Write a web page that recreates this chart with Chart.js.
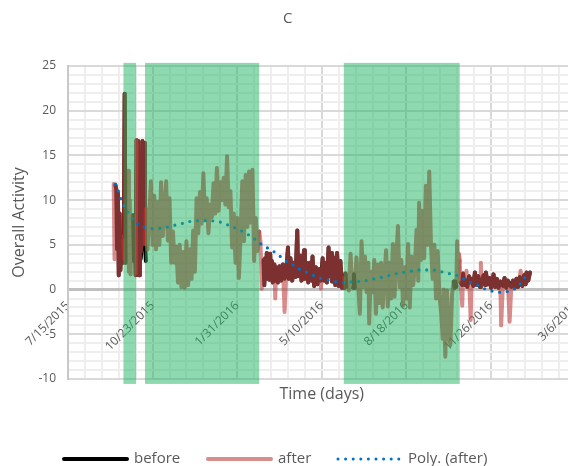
<!DOCTYPE html>
<html>
<head>
<meta charset="utf-8">
<script src="https://cdn.jsdelivr.net/npm/chart.js@4/dist/chart.umd.min.js"></script>
<style>
  html, body { margin: 0; padding: 0; overflow: hidden; background: #ffffff; }
  canvas { display: block; }
</style>
</head>
<body>
<canvas id="chart" width="578" height="466"></canvas>
<script>
// Day 0 of the time axis is 7/15/2015; every x value below is a day offset from it.
const START_UTC = Date.UTC(2015, 6, 15);

// Axis ticks: a gridline every 20 days, a date label every 100 days.
const xTickStep = 20;
const xLabelEvery = 100;
const xRange = [0, 600];
const yRange = [-10, 25];

// Shaded intervention periods [startDay, endDay].
const shadedPeriods = [[65.5, 80.5], [91, 226], [326, 463]];

// "after" series: [day, overall activity]
const afterSeries = [
  [54, 11.8], [55, 3.4], [56, 11.7], [57, 11.2], [58, 4.5], [59, 10.8], [60, 1.6], [61, 8.5],
  [62, 2.2], [63, 6.0], [64, 3.0], [65, 5.5], [66, 3.5], [67, 21.9], [68, 3.0], [69, 11.5],
  [70, 5.0], [71, 13.3], [72, 2.0], [73, 10.0], [74, 1.7], [75, 8.0], [76, 4.5], [77, 8.3],
  [78, 3.2], [79, 7.5], [80, 1.6], [81, 16.7], [82, 1.8], [83, 16.6], [84, 1.6], [85, 5.4],
  [86, 4.2], [87, 5.0], [88, 16.6], [89, 5.5], [90, 16.4], [91, 5.1], [92, 9.0],
  [94, 4.5], [96, 8.5], [98, 12.1], [100, 5.0], [102, 10.5], [104, 4.5], [106, 9.8], [108, 5.0],
  [110, 12.0], [112, 6.0], [114, 9.0], [116, 12.1], [118, 5.5], [120, 10.2], [122, 3.0], [124, 6.5],
  [126, 3.0], [128, 4.8], [130, 0.8], [132, 5.0], [134, 0.3], [136, 4.2], [138, 0.2], [140, 5.4],
  [142, 0.5], [144, 4.5], [146, 1.2], [148, 6.6], [150, 2.0], [152, 10.2], [154, 6.3], [156, 10.9],
  [158, 7.4], [160, 13.0], [162, 8.0], [164, 10.2], [166, 6.3], [168, 9.5], [170, 8.1], [172, 11.9],
  [174, 8.5], [176, 13.6], [178, 8.8], [180, 12.0], [182, 10.0], [184, 12.5], [186, 9.5], [188, 14.9],
  [190, 9.2], [192, 11.0], [194, 4.7], [196, 8.5], [198, 3.0], [200, 8.0], [202, 1.3], [204, 6.0],
  [206, 12.1], [208, 5.4], [210, 12.8], [212, 7.0], [214, 13.2], [216, 7.5], [218, 13.4], [220, 3.2],
  [222, 8.0], [224, 4.3], [226, 6.5], [227.5, 5.4], [229, 0.1],
  [231, 3.3], [232, 0.5], [233, 3.5], [234, 1.2], [235, 4.1], [236, 1.5], [237, 3.0], [238, 1.1],
  [239, 4.0], [240, 1.5], [241, 3.2], [242, 0.8], [244, 2.8], [245, -1.0], [246, 2.5], [248, 0.8],
  [250, 2.6], [252, 1.0], [254, 2.8], [256, -2.5], [258, 2.0], [260, 4.7], [261, 1.2], [263, 3.5],
  [265, 1.0], [267, 3.0], [269, 1.4], [271, 6.6], [272, 1.5], [274, 3.8], [276, 1.0], [279, 4.4],
  [280, 1.2], [282, 3.0], [284, 0.8], [286, 3.0], [288, 1.0], [289, 3.7], [291, 0.4], [293, 2.5],
  [295, 0.6], [297, 2.3], [299, 0.1], [301, 3.5], [303, 1.0], [305, 3.0], [306, 0.8], [308, 4.7],
  [309, 1.5], [311, 4.1], [312, 0.9], [314, 3.6], [316, 0.5], [318, 4.1], [320, 0.4], [322, 3.2],
  [324, 0.2], [326, 1.3],
  [327, 0.2], [328, 1.8], [329, 0.3], [330, 1.2], [332, -0.1], [334, 4.0], [336, 0.3], [337, 0.2],
  [338, 1.7], [339, 0.2], [341, 3.6], [343, 0.5], [345, -2.7], [347, 5.4], [349, 0.3], [351, 3.7],
  [353, -0.3], [355, 3.0], [356, -3.8], [358, 2.0], [360, -0.3], [362, 3.3], [364, -2.7], [366, 2.8],
  [368, -1.5], [370, 3.0], [372, -2.0], [374, 1.5], [376, 4.4], [378, -1.9], [380, 3.0], [382, -1.0],
  [384, 5.1], [386, -0.8], [388, 3.5], [390, 7.1], [392, 0.3], [394, 3.3], [396, -1.8], [398, 2.5],
  [400, -1.0], [402, 5.1], [404, -2.0], [406, 3.7], [408, 0.5], [410, 2.5], [412, 6.7], [414, 1.0],
  [415, 9.7], [417, 3.3], [419, 8.8], [421, 3.5], [423, 11.6], [425, 5.0], [427, 13.2], [429, 5.1],
  [431, 1.2], [433, 5.0], [435, -1.0], [437, 4.3], [439, -0.6], [441, -2.5], [443, -5.5], [444, 0.0],
  [446, -7.5], [448, -0.1], [450, -4.7], [452, -6.2], [454, -0.5], [456, 0.9], [457, 0.2], [458, 0.9],
  [459, 0.3], [460, 5.4], [461, 1.0], [462, 4.0], [463, 3.2],
  [464, 0.8], [466, -1.8], [467, 1.8], [469, 0.5], [471, 2.1], [472, 0.3], [474, 1.5], [476, -3.4],
  [477, 1.2], [479, 0.4], [481, 1.9], [483, 0.5], [485, 1.5], [487, 0.3], [488, 3.0], [489, 0.8],
  [491, 1.6], [493, 0.5], [494, 1.9], [496, 0.6], [498, 1.3], [500, 0.2], [502, 1.0], [503, 1.7],
  [505, 0.3], [507, 1.2], [509, 0.2], [511, 0.9], [512, -4.0], [514, 0.4], [516, 1.3], [518, 0.2],
  [520, 1.0], [522, -3.6], [524, 0.3], [526, 1.0], [528, 0.2], [530, 1.2], [532, 0.3], [534, 1.4],
  [535, 2.1], [537, 0.4], [539, 1.6], [541, 0.6], [542, 1.9], [544, 1.0], [546, 1.9]
];

// "before" series: [day, overall activity]; null marks a gap in the record.
const beforeSeries = [
  [56, 11.7], [57, 11.2], [58, 4.5], [59, 10.8], [60, 1.6], [61, 8.5], [62, 2.2], [63, 6.0],
  [64, 3.0], [65, 5.5], [66, 3.5], [67, 21.9], [68, 3.0], [72, null],
  [77, 8.3], [78, 3.2], [79, 7.5], [80, 1.6], [81, 16.7], [82, 1.8], [83, 16.6], [84, 1.6],
  [85, 3.2], [86, 3.5], [87, 5.0], [88, 16.6], [89, 5.5], [90, 16.4], [91, 5.1], [92, 3.2],
  [150, null],
  [231, 3.3], [232, 0.5], [233, 3.5], [234, 1.2], [235, 4.1], [236, 1.5], [237, 3.0], [238, 1.1],
  [239, 4.0], [240, 1.5], [241, 3.2], [242, 0.8], [244, 2.8], [245, 1.0], [246, 2.5], [248, 0.8],
  [250, 2.6], [252, 1.0], [254, 2.8], [256, 1.2], [258, 2.0], [260, 4.7], [261, 1.2], [263, 3.5],
  [265, 1.0], [267, 3.0], [269, 1.4], [271, 6.6], [272, 1.5], [274, 3.8], [276, 1.0], [279, 4.4],
  [280, 1.2], [282, 3.0], [284, 0.8], [286, 3.0], [288, 1.0], [289, 3.7], [291, 0.4], [293, 2.5],
  [295, 0.6], [297, 2.3], [299, 1.0], [301, 3.5], [303, 1.0], [305, 3.0], [306, 0.8], [308, 4.7],
  [309, 1.5], [311, 4.1], [312, 0.9], [314, 3.6], [316, 0.5], [318, 4.1], [320, 0.4], [322, 3.2],
  [324, 0.2], [326, 1.3], [327, 0.2], [328, 1.8], [329, 0.3], [333, null],
  [337, 0.2], [338, 1.7], [339, 0.2], [400, null],
  [456, 0.9], [457, 0.2], [458, 0.9], [459, 0.3], [461, null],
  [464, 0.8], [466, 0.5], [467, 1.8], [469, 0.5], [471, 1.0], [472, 0.3], [474, 1.5], [476, 0.8],
  [477, 1.2], [479, 0.4], [481, 1.9], [483, 0.5], [485, 1.5], [487, 0.3], [488, 1.0], [489, 0.8],
  [491, 1.6], [493, 0.5], [494, 1.9], [496, 0.6], [498, 1.3], [500, 0.2], [502, 1.0], [503, 1.7],
  [505, 0.3], [507, 1.2], [509, 0.2], [511, 0.9], [512, 0.6], [514, 0.4], [516, 1.3], [518, 0.2],
  [520, 1.0], [522, 0.5], [524, 0.3], [526, 1.0], [528, 0.2], [530, 1.2], [532, 0.3], [534, 1.4],
  [535, 1.0], [537, 0.4], [539, 1.6], [541, 0.6], [542, 1.9], [544, 1.0], [546, 1.9]
];

// Polynomial trend fitted to "after": [day, value]
const polySeries = [
  [56, 11.8], [60, 10.9], [63, 10.0], [67, 9.2], [72, 8.5], [78, 7.7], [85, 7.2], [94, 6.9],
  [103, 6.8], [113, 6.9], [122, 7.1], [131, 7.3], [140, 7.5], [149, 7.7], [159, 7.7], [168, 7.7],
  [178, 7.6], [187, 7.3], [195, 7.0], [204, 6.6], [212, 6.2], [220, 5.7], [228, 5.1], [235, 4.7],
  [244, 4.2], [251, 3.7], [259, 3.1], [267, 2.7], [275, 2.2], [283, 1.9], [292, 1.5], [301, 1.2],
  [311, 1.0], [319, 0.86], [328, 0.78], [338, 0.9], [348, 0.93], [357, 1.1], [367, 1.3], [376, 1.5],
  [385, 1.7], [394, 1.9], [403, 2.0], [413, 2.2], [422, 2.2], [431, 2.2], [441, 2.0], [450, 1.8],
  [459, 1.6], [467, 1.2], [476, 0.8], [485, 0.44], [493, 0.07], [502, -0.19], [511, -0.3], [520, -0.2],
  [529, 0.15], [536, 0.8], [542, 1.6]
];

const FONT = "'Open Sans', sans-serif";
const TEXT = '#595959';
const AFTER_COLOR = 'rgba(194,75,75,0.64)';
const AFTER_SHADED_COLOR = 'rgba(200,40,40,0.7)';

function dayToLabel(d) {
  const t = new Date(START_UTC + d * 86400000);
  return (t.getUTCMonth() + 1) + '/' + t.getUTCDate() + '/' + t.getUTCFullYear();
}
const toPoints = s => s.map(([x, y]) => ({ x, y }));
const inShadedPeriod = d => shadedPeriods.some(([s, e]) => d >= s && d <= e);

// Translucent green blocks laid over the plot for each shaded period.
const shadedPeriodsPlugin = {
  id: 'shadedPeriods',
  afterDatasetsDraw(chart) {
    const { ctx, scales: { x, y } } = chart;
    const top = y.getPixelForValue(25.35);
    const bottom = y.getPixelForValue(-10.55);
    ctx.save();
    ctx.fillStyle = 'rgba(31,179,97,0.5)';
    shadedPeriods.forEach(([s, e]) => {
      const x0 = x.getPixelForValue(s);
      const x1 = x.getPixelForValue(e);
      ctx.fillRect(x0, top, x1 - x0, bottom - top);
    });
    ctx.restore();
  }
};

// Axis caption under the plot and the line-sample legend along the bottom.
const captionAndLegendPlugin = {
  id: 'captionAndLegend',
  afterDraw(chart) {
    const { ctx, chartArea } = chart;
    ctx.save();
    ctx.fillStyle = TEXT;
    ctx.font = '16px ' + FONT;
    ctx.textAlign = 'center';
    ctx.textBaseline = 'middle';
    ctx.fillText('Time (days)', (chartArea.left + chartArea.right) / 2, 394);

    const y = 459;
    const starts = [63, 207, 337];
    ctx.font = '15px ' + FONT;
    ctx.textAlign = 'left';
    chart.data.datasets.forEach((ds, i) => {
      const x = starts[i];
      ctx.beginPath();
      ctx.strokeStyle = ds.borderColor;
      ctx.lineCap = 'round';
      if (ds.borderDash) {
        ctx.lineWidth = 3;
        ctx.setLineDash([0, 7.6]);
      } else {
        ctx.lineWidth = 4;
        ctx.setLineDash([]);
      }
      ctx.moveTo(x + 1, y);
      ctx.lineTo(x + 64, y);
      ctx.stroke();
      ctx.setLineDash([]);
      ctx.fillStyle = TEXT;
      ctx.fillText(ds.label, x + 71, y);
    });
    ctx.restore();
  }
};

new Chart(document.getElementById('chart'), {
  type: 'line',
  data: {
    datasets: [
      {
        label: 'before',
        data: toPoints(beforeSeries),
        borderColor: '#000000',
        borderWidth: 4,
        borderJoinStyle: 'round',
        borderCapStyle: 'round',
        pointRadius: 0,
        spanGaps: false,
        order: 3
      },
      {
        label: 'after',
        data: toPoints(afterSeries),
        borderColor: AFTER_COLOR,
        borderWidth: 4,
        borderJoinStyle: 'round',
        borderCapStyle: 'round',
        pointRadius: 0,
        segment: {
          borderColor: c => (inShadedPeriod((c.p0.parsed.x + c.p1.parsed.x) / 2) ? AFTER_SHADED_COLOR : undefined)
        },
        order: 2
      },
      {
        label: 'Poly. (after)',
        data: toPoints(polySeries),
        borderColor: '#0070c0',
        borderWidth: 3.2,
        borderDash: [0, 7.7],
        borderCapStyle: 'round',
        cubicInterpolationMode: 'monotone',
        pointRadius: 0,
        order: 1
      }
    ]
  },
  options: {
    responsive: false,
    animation: false,
    devicePixelRatio: 1,
    events: [],
    layout: { padding: { top: 0, left: 0, right: 2.4, bottom: 87 } },
    plugins: {
      legend: { display: false },
      tooltip: { enabled: false },
      title: {
        display: true,
        text: 'C',
        color: TEXT,
        font: { family: FONT, size: 15, weight: 'normal' },
        padding: { top: 10, bottom: 38 }
      }
    },
    scales: {
      x: {
        type: 'linear',
        min: xRange[0],
        max: xRange[1],
        position: { y: 0 },
        afterFit(scale) { scale.paddingLeft = 0; scale.paddingRight = 0; },
        ticks: {
          stepSize: xTickStep,
          autoSkip: false,
          minRotation: 45,
          maxRotation: 45,
          padding: 9,
          color: TEXT,
          font: { family: FONT, size: 12 },
          callback: v => (v % xLabelEvery === 0 ? dayToLabel(v) : '')
        },
        grid: {
          drawTicks: false,
          lineWidth: 2,
          color: c => (c.tick && c.tick.value % xLabelEvery === 0 ? '#d9d9d9' : '#eeeeee')
        },
        border: { display: false }
      },
      y: {
        min: yRange[0],
        max: yRange[1],
        afterFit(scale) { scale.width = 68; },
        ticks: {
          stepSize: 1,
          autoSkip: false,
          padding: 12,
          color: TEXT,
          font: { family: FONT, size: 12 },
          callback: v => (v % 5 === 0 ? String(v) : '')
        },
        grid: {
          drawTicks: false,
          lineWidth: c => (c.tick && c.tick.value === 0 ? 3 : 2),
          color: c => {
            const v = c.tick ? c.tick.value : 1;
            if (v === 0) return '#bfbfbf';
            return v % 5 === 0 ? '#d9d9d9' : '#eeeeee';
          }
        },
        border: { display: true, color: '#c8c8c8', width: 2 },
        title: {
          display: true,
          text: 'Overall Activity',
          color: TEXT,
          font: { family: FONT, size: 16 },
          padding: { top: 10, bottom: 0 }
        }
      }
    }
  },
  plugins: [shadedPeriodsPlugin, captionAndLegendPlugin]
});
</script>
</body>
</html>
